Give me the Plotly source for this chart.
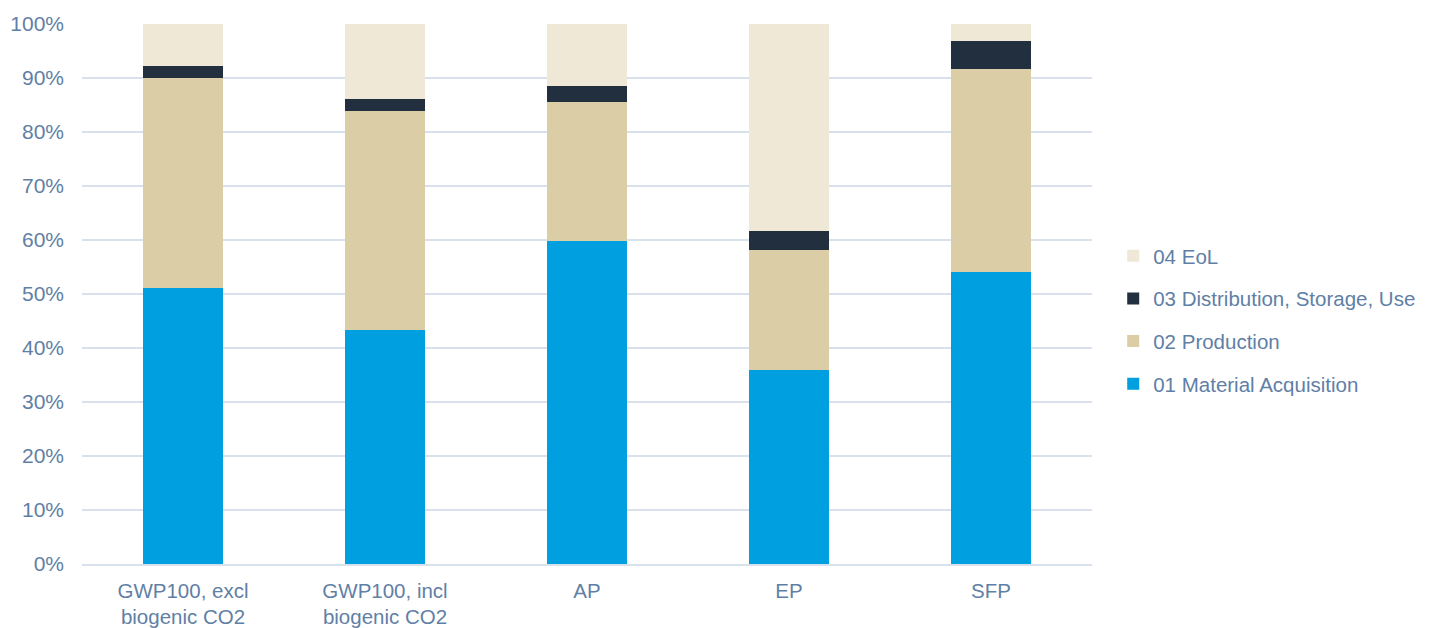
import plotly.graph_objects as go

categories = ["GWP100, excl<br>biogenic CO2", "GWP100, incl<br>biogenic CO2", "AP", "EP", "SFP"]
material_acq = [51.1, 43.3, 59.9, 35.9, 54.1]
production = [38.9, 40.6, 25.7, 22.3, 37.6]
distribution = [2.2, 2.3, 2.9, 3.5, 5.2]
eol = [7.8, 13.8, 11.5, 38.3, 3.1]

series = [
    ("01 Material Acquisition", material_acq, "#009FE0", 4),
    ("02 Production", production, "#DBCDA6", 3),
    ("03 Distribution, Storage, Use", distribution, "#222F3E", 2),
    ("04 EoL", eol, "#EFE8D6", 1),
]

text_color = "#5F80A6"
grid_color = "#D9E1EC"

fig = go.Figure()
for name, vals, color, rank in series:
    fig.add_trace(go.Bar(
        x=categories, y=[v / 100 for v in vals], name=name,
        marker=dict(color=color, line=dict(width=0)),
        legendgroup=name, legendrank=rank,
    ))

fig.update_layout(
    barmode="stack",
    bargap=0.604,
    width=1429, height=628,
    margin=dict(l=82, r=337, t=24, b=64, autoexpand=False),
    paper_bgcolor="white", plot_bgcolor="white",
    font=dict(family="Liberation Sans, Arial, sans-serif", size=20.5, color=text_color),
    legend=dict(
        traceorder="grouped", tracegroupgap=13,
        x=1.021, xanchor="left", y=0.452, yanchor="middle",
        font=dict(size=20.5, color=text_color),
        itemwidth=30,
    ),
    yaxis=dict(
        range=[0, 1], tickformat=".0%", dtick=0.1,
        showgrid=True, gridcolor=grid_color, gridwidth=2,
        zeroline=False, ticks="", ticklen=0, ticklabelstandoff=17,
        automargin=False,
        tickfont=dict(size=21, color=text_color),
    ),
    xaxis=dict(
        showline=True, linecolor=grid_color, linewidth=2,
        ticks="", ticklabelstandoff=7, automargin=False,
        tickfont=dict(size=20.5, color=text_color),
    ),
)

fig.write_html("out.html")
